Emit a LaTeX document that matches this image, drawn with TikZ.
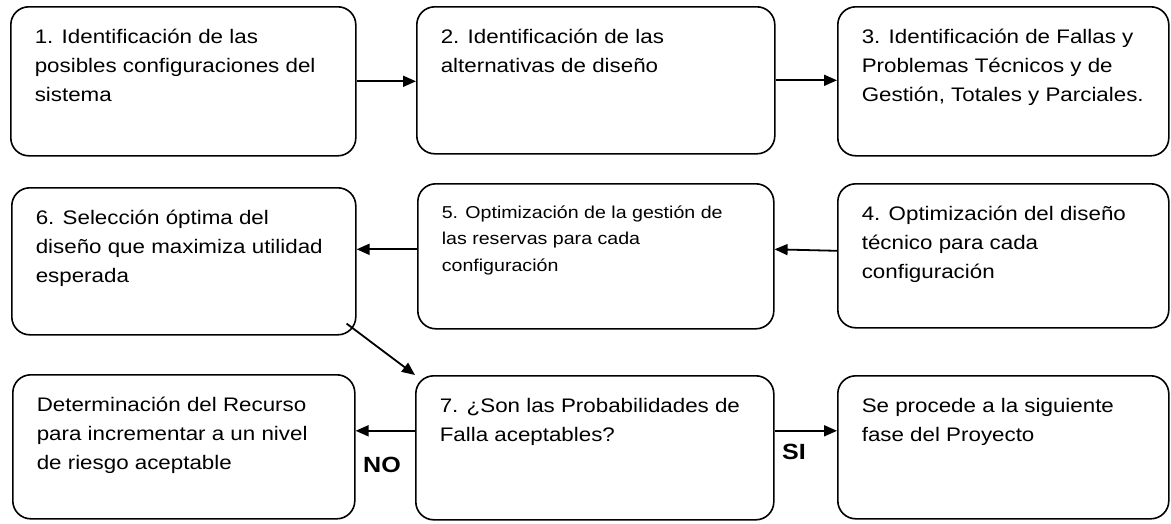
\documentclass[tikz,border=0pt]{standalone}
\usepackage{fontspec}
\setmainfont{Liberation Sans}[FakeStretch=1.14]
\usetikzlibrary{arrows.meta}
\newcommand{\boxtext}[3]{\parbox[c][#2][t]{#1}{\begin{tabular}[t]{@{}l@{}}#3\end{tabular}}}

\begin{document}
\begin{tikzpicture}[x=1pt,y=-1pt]
\tikzset{stage/.style={draw,rounded corners=18pt,line width=1.6pt,anchor=north west,
  inner xsep=24pt,inner ysep=16pt,font=\fontsize{19.6}{29}\selectfont},
 flow/.style={-{Triangle[length=13pt,width=11pt]},line width=1.8pt},
 tag/.style={anchor=base west,inner sep=0pt,font=\fontsize{22}{24}\selectfont\bfseries}}
\useasboundingbox (0,0) rectangle (1171,523);
% fila superior
\node[stage] (b1) at (10,6) {\boxtext{297pt}{117pt}{1. Identificación de las\\posibles configuraciones del\\sistema}};
\node[stage] (b2) at (416,6) {\boxtext{310pt}{115pt}{2. Identificación de las\\alternativas de diseño}};
\node[stage] (b3) at (837,6) {\boxtext{283pt}{117pt}{3. Identificación de Fallas y\\Problemas Técnicos y de\\Gestión, Totales y Parciales.}};
% fila media
\node[stage] (b6) at (11,187) {\boxtext{296pt}{115pt}{6. Selección óptima del\\diseño que maximiza utilidad\\esperada}};
\node[stage,font=\fontsize{17.2}{26.5}\selectfont] (b5) at (417,183) {\boxtext{308pt}{113pt}{5. Optimización de la gestión de\\las reservas para cada\\configuración}};
\node[stage] (b4) at (837,183) {\boxtext{283pt}{112pt}{4. Optimización del diseño\\técnico para cada\\configuración}};
% fila inferior
\node[stage] (bno) at (12,374) {\boxtext{294pt}{112pt}{Determinación del Recurso\\para incrementar a un nivel\\de riesgo aceptable}};
\node[stage] (b7) at (415,375) {\boxtext{310pt}{112pt}{7. ¿Son las Probabilidades de\\Falla aceptables?}};
\node[stage] (bsi) at (837,375) {\boxtext{283pt}{111pt}{Se procede a la siguiente\\fase del Proyecto}};
\node[tag] (no) at (363,472) {NO};
\node[tag] (si) at (782,459) {SI};
% flechas
\draw[flow] (b1.east) -- (b1.east -| b2.west);
\draw[flow] (b2.east) -- (b2.east -| b3.west);
\draw[flow] ([yshift=5pt]b4.west) -- ([yshift=7pt]b5.east);
\draw[flow] ([yshift=7pt]b5.west) -- ([yshift=7pt]b5.west -| b6.east);
\draw[flow] ([xshift=-10pt,yshift=12pt]b6.south east) -- (b7.north west);
\draw[flow] ([yshift=17pt]b7.west) -- ([yshift=17pt]b7.west -| bno.east);
\draw[flow] ([yshift=17pt]b7.east) -- ([yshift=17pt]b7.east -| bsi.west);
\end{tikzpicture}
\end{document}
